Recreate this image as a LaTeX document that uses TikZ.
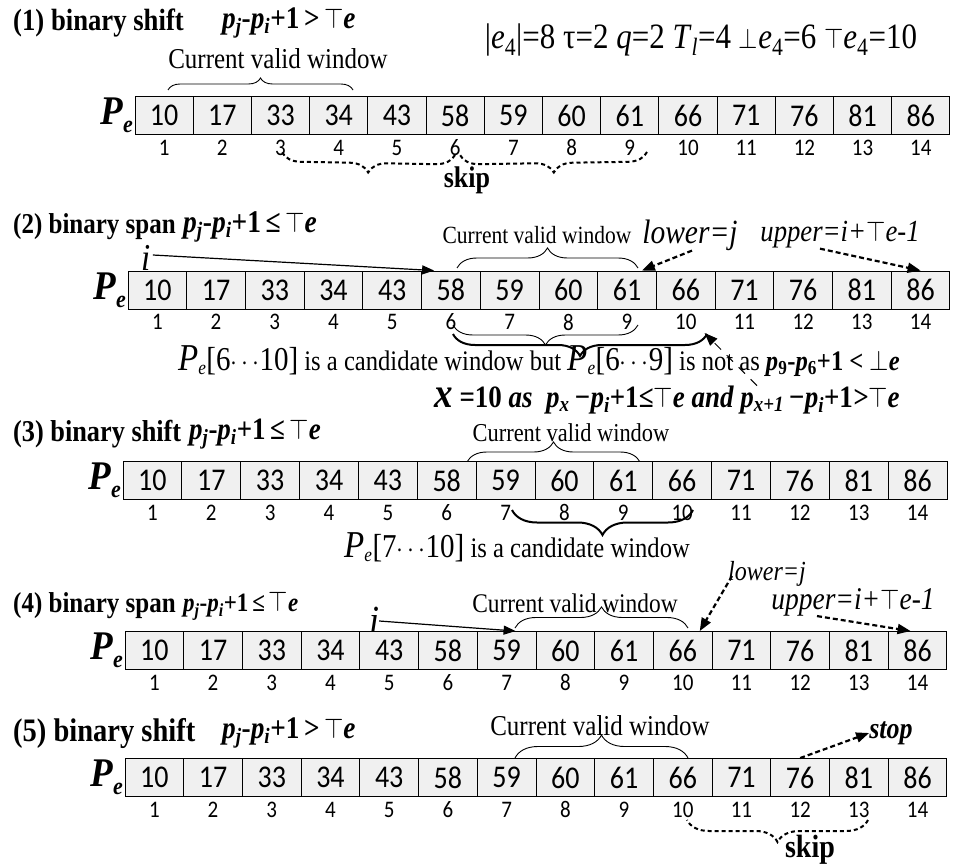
\documentclass[tikz,border=0pt]{standalone}
\usepackage{fontspec}
\usepackage{graphicx}
\setmainfont{Liberation Serif}
\newfontfamily\calfont{Carlito}
\usetikzlibrary{decorations.pathreplacing,arrows.meta,calc}
\pgfdeclarelayer{bg}
\pgfsetlayers{bg,main}
\newcommand\fs[1]{\fontsize{#1}{#1}\selectfont}
\newcommand\Tp{$\top$}
\newcommand\Bt{$\bot$}
\newcommand\cnd[1]{\textbf{\textit{p}\textsubscript{\textit{j}}-\textit{p}\textsubscript{\textit{i}}+1\,#1\,}\Tp\textbf{\textit{e}}}
\newcommand\Pe{{\fs{37}\bfseries\itshape P}\raisebox{-7pt}{\fs{22}\bfseries\itshape e}}
\newcommand\parray[4]{%
 \foreach \v [count=\k] in {10,17,33,34,43,58,59,60,61,66,71,76,81,86}{%
  \node[cell,minimum width=#4pt] (#1c\k) at ({#2+(\k-0.5)*#4},#3) {\scalebox{1}[1.13]{\v}};
  \node[idx] (#1i\k) at ({#2+(\k-0.5)*#4},#3+32) {\k};
 }
 \node[anchor=east,inner sep=0pt,yscale=1.1] (#1p) at (#2-2,#3) {\Pe};
}
\begin{document}
\begin{tikzpicture}[x=1pt,y=-1pt,
  cell/.style={draw,line width=0.9pt,fill=black!6,minimum height=38pt,inner sep=0pt,font=\calfont\fs{28}},
  idx/.style={inner sep=0pt,yscale=1.13,font=\calfont\fs{21}},
  head/.style={anchor=west,inner sep=0pt,yscale=1.15,font=\bfseries\fs{26}},
  txt/.style={inner sep=0pt,yscale=1.15},
  brup/.style={decorate,decoration={brace,amplitude=#1},line width=0.9pt},
  brthick/.style={decorate,decoration={brace,amplitude=#1},line width=2pt},
  skipbr/.style={decorate,decoration={brace,amplitude=#1},line width=2pt,dash pattern=on 4pt off 3pt},
  solarr/.style={-{Triangle[length=12pt,width=9pt]},line width=1.2pt},
  dotarr/.style={-{Triangle[length=13pt,width=10pt]},line width=2.2pt,dash pattern=on 5pt off 3pt},
  longdash/.style={line width=1pt,dash pattern=on 9pt off 8pt},
  skiplab/.style={inner sep=0pt,yscale=1.15,font=\bfseries\fs{26}}
]
\fill[white] (0,0) rectangle (978,864);
\useasboundingbox (0,0) rectangle (978,864);

% ---------------- (1)
\node[head,font=\bfseries\fs{26.7}] (h1) at (13,23) {(1) binary shift};
\node[head,font=\bfseries\fs{27.3}] (f1) at (222,23) {\cnd{>}};
\node[txt] (par) at (701,40) {\fs{31}|\textit{e}\textsubscript{4}|=8 τ=2 \textit{q}=2 \textit{T}\textsubscript{\textit{l}}=4 \Bt\textit{e}\textsubscript{4}=6 \Tp\textit{e}\textsubscript{4}=10};
\node[txt,font=\fs{25}] (cv1) at (278,59) {Current valid window};
\draw[brup=12] (168,90) -- (353,90);
\parray{r1}{135}{115.5}{58.21}
\draw[skipbr=19] (455,155) -- (282,152);
\draw[skipbr=19] (647,152) -- (460,155);
\node[skiplab] (skip1) at (467,180) {skip};

% ---------------- (2)
\node[head,font=\bfseries\fs{25}] (h2) at (13,227) {(2) binary span};
\node[head,font=\bfseries\fs{27.5}] (f2) at (183,227) {\cnd{≤}};
\node[txt,font=\fs{33}\itshape] (i2) at (146,258) {i};
\node[txt,font=\fs{21.5}] (cv2) at (537,235) {Current valid window};
\node[txt,font=\fs{29.5}\itshape] (lo2) at (690,235) {lower=j};
\node[txt,font=\fs{26.7}\itshape] (up2) at (840,235) {upper=i+\Tp e-1};
\draw[brup=20] (457,268) -- (638,268);
\parray{r2}{128}{290}{58.71}
\draw[solarr] ($(i2.east)+(2,-3)$) -- ($(r2c6.north west)+(13,0)$);
\draw[dotarr] ($(lo2.south)+(2,0)$) -- ($(r2c9.north east)+(-15,0)$);
\draw[dotarr] ($(up2.south)+(-20,0)$) -- (r2c14.north);
\draw[brup=20] (638,325) -- (453,325);
\draw[brthick=22] (707,334) -- (453,334);
\node[txt] (t2) at (539,361) {\fs{24.6}{\fs{33}\itshape P}\textsubscript{\itshape e}{\fs{29}[6$\cdots$10]} is a candidate window but {\fs{33}\itshape P}\textsubscript{\itshape e}{\fs{29}[6$\cdots$9]} is not as \textbf{\textit{p}\textsubscript{9}-\textit{p}\textsubscript{6}+1 <} \Bt\textbf{\textit{e}}};
\node[txt] (xt) at (667,400) {\fs{27}\bfseries\itshape {\fs{37}x} \textup{=10} as\ \ p\textsubscript{x}\,−p\textsubscript{i}\textup{+1}≤\Tp e and p\textsubscript{x+1}\,−p\textsubscript{i}\textup{+1}>\Tp e};
\draw[longdash,-{Triangle[length=13pt,width=10pt]}] ($(xt.north)+(90,0)$) -- ($(r2i10.south east)+(8,3)$);

% ---------------- (3)
\node[head,font=\bfseries\fs{26.3}] (h3) at (13,434) {(3) binary shift};
\node[head,font=\bfseries\fs{27}] (f3) at (189,434) {\cnd{≤}};
\node[txt,font=\fs{22.4}] (cv3) at (571,433) {Current valid window};
\draw[brup=20] (467,462) -- (640,462);
\parray{r3}{123}{480.5}{58.86}
\draw[brthick=25] (693,510) -- (512,510);
\node[txt] (t3) at (517,547) {\fs{24.6}{\fs{33}\itshape P}\textsubscript{\itshape e}{\fs{29}[7$\cdots$10]} is a candidate window};

% ---------------- (4)
\node[head,font=\bfseries\fs{25}] (h4) at (13,606) {(4) binary span};
\node[head,font=\bfseries\fs{23}] (f4) at (183,606) {\cnd{≤}};
\node[txt,font=\fs{36}\itshape] (i4) at (374,621) {i};
\node[txt,font=\fs{23.4}] (cv4) at (575,603) {Current valid window};
\node[txt,font=\fs{24}\itshape] (lo4) at (767,574) {lower=j};
\node[txt,font=\fs{27.5}\itshape] (up4) at (853,602) {upper=i+\Tp e-1};
\draw[brup=21] (515,628) -- (688,628);
\parray{r4}{125}{650.5}{58.71}
\draw[solarr] (i4.east) -- ($(r4c7.north)+(9,0)$);
\draw[dotarr] ($(lo4.west)+(4,2)$) -- ($(r4c10.north)+(17,0)$);
\draw[dotarr] ($(up4.south)+(-36,0)$) -- ($(r4c14.north)+(-7,0)$);
\begin{pgfonlayer}{bg}
\draw[longdash,-{Triangle[length=13pt,width=10pt]}] ($(xt.south)+(82,0)$) -- ($(r4c10.north)+(10,0)$);
\end{pgfonlayer}

% ---------------- (5)
\node[head,font=\bfseries\fs{28.5}] (h5) at (13,733) {(5) binary shift};
\node[head,font=\bfseries\fs{27.3}] (f5) at (222,733) {\cnd{>}};
\node[txt,font=\fs{25}] (cv5) at (600,726) {Current valid window};
\draw[brup=23] (515,758) -- (688,758);
\node[txt,font=\fs{26}\bfseries\itshape] (stop) at (891,733) {stop};
\parray{r5}{125}{777.5}{58.71}
\draw[dotarr] (r5c12.north) -- (stop.west);
\draw[skipbr=22] (868,820) -- (687,820);
\node[skiplab,font=\bfseries\fs{28}] (skip5) at (810,850) {skip};
\end{tikzpicture}
\end{document}
